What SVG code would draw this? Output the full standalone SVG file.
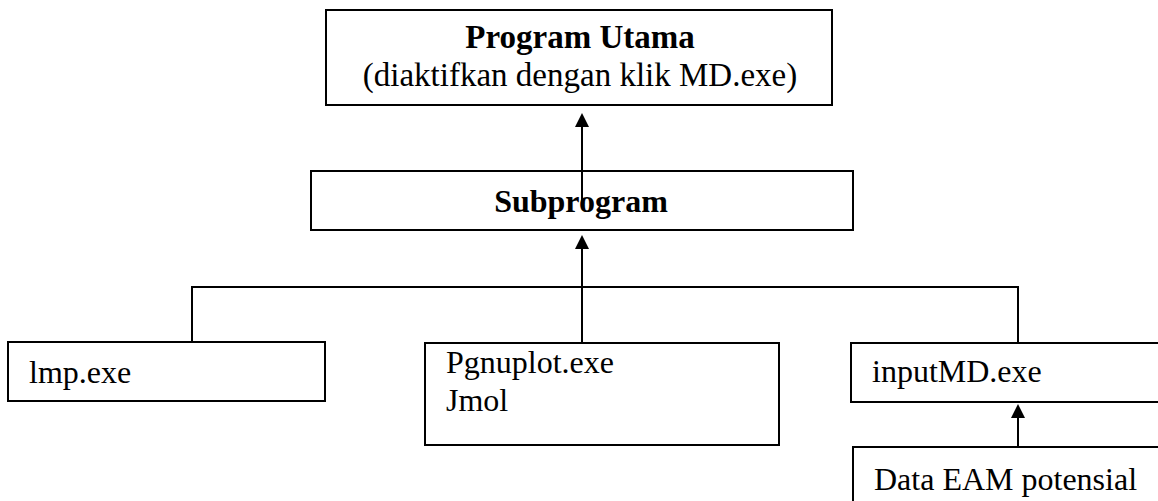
<svg xmlns="http://www.w3.org/2000/svg" width="1158" height="501" viewBox="0 0 1158 501">
<style>
.box{fill:#fff;stroke:#000;stroke-width:2}
.t{font-family:"Liberation Serif","Times New Roman",serif;font-size:32px;fill:#000}
.top{font-size:33px}
.b{font-weight:bold}
.c{stroke:#000;stroke-width:2;fill:none}
</style>
<rect width="1158" height="501" fill="#fff"/>
<g id="node-program-utama">
<rect class="box" x="326" y="10" width="506" height="95"/>
<text class="t top b" x="580" y="48" text-anchor="middle">Program Utama</text>
<text class="t top" x="580" y="86" text-anchor="middle">(diaktifkan dengan klik MD.exe)</text>
</g>
<g id="node-subprogram">
<rect class="box" x="311" y="171" width="542" height="59"/>
<text class="t b" x="581" y="212" text-anchor="middle">Subprogram</text>
</g>
<g id="node-lmp">
<rect class="box" x="8" y="342" width="317" height="59"/>
<text class="t" x="29" y="383">lmp.exe</text>
</g>
<g id="node-pgnuplot">
<rect class="box" x="425" y="343" width="354" height="102"/>
<text class="t" x="446" y="373">Pgnuplot.exe</text>
<text class="t" x="446" y="411">Jmol</text>
</g>
<g id="node-inputmd">
<rect class="box" x="851" y="343" width="320" height="59"/>
<text class="t" x="872" y="382">inputMD.exe</text>
</g>
<g id="node-data-eam">
<rect class="box" x="853" y="447" width="320" height="70"/>
<text class="t" x="874" y="490">Data EAM potensial</text>
</g>
<g id="connectors">
<line class="c" x1="582" y1="206" x2="582" y2="125"/>
<polygon points="582,113 575,127 589,127" fill="#000"/>
<line class="c" x1="582" y1="343" x2="582" y2="247"/>
<polygon points="582,235 575,249 589,249" fill="#000"/>
<polyline class="c" points="192,342 192,287 1018,287 1018,343"/>
<line class="c" x1="1018" y1="447" x2="1018" y2="416"/>
<polygon points="1018,404 1011,418 1025,418" fill="#000"/>
</g>
</svg>
